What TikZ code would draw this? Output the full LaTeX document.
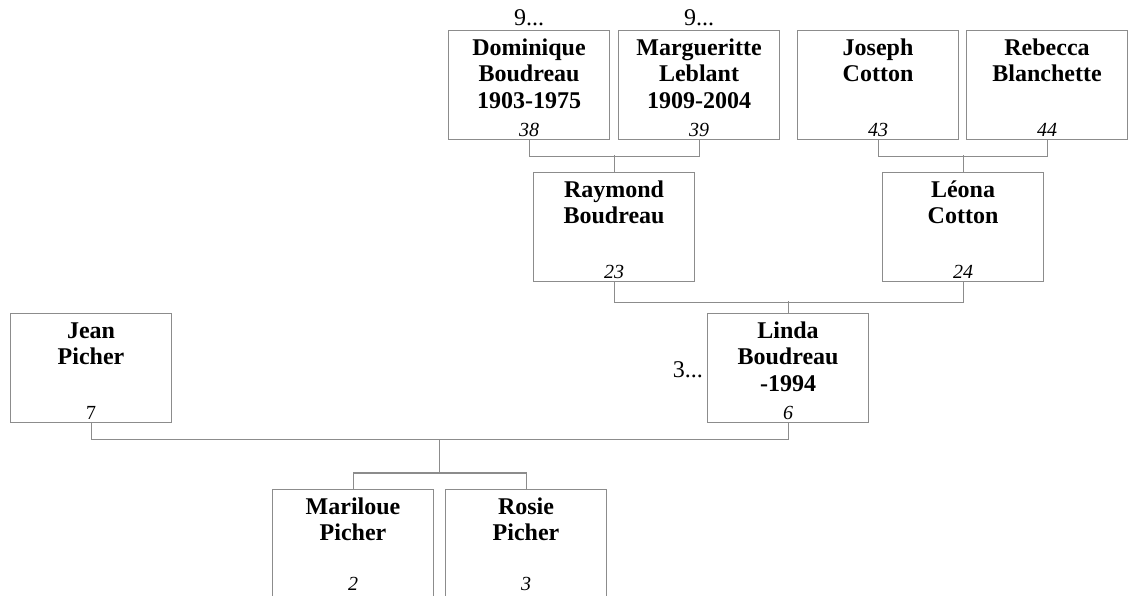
\documentclass[tikz,border=0pt]{standalone}
\usepackage{fontspec}
\setmainfont{Liberation Serif}
\usetikzlibrary{calc}
\definecolor{boxgray}{RGB}{140,140,140}
\tikzset{
  person/.style={draw=boxgray, line width=1.1pt, rectangle, anchor=north west, inner sep=0pt, minimum width=161pt, minimum height=109pt},
  pname/.style={anchor=north, inner sep=0pt, align=center, font=\bfseries\fontsize{24}{26.5}\selectfont},
  pnum/.style={anchor=base, inner sep=0pt, font=\itshape\fontsize{20}{22}\selectfont},
  pnumup/.style={anchor=base, inner sep=0pt, font=\fontsize{20}{22}\selectfont},
  more/.style={inner sep=0pt, font=\fontsize{24}{26}\selectfont},
  link/.style={draw=boxgray, line width=1.1pt}
}
\newcommand{\fs}{\rule{0pt}{17pt}}
\begin{document}
\begin{tikzpicture}[x=1pt,y=-1pt]
\clip (0,0) rectangle (1132,595);
% boxes
\node[person] (dom) at (448,30) {};
\node[person] (marg) at (618,30) {};
\node[person] (jos) at (797,30) {};
\node[person] (reb) at (966,30) {};
\node[person] (ray) at (533,172) {};
\node[person] (leo) at (882,172) {};
\node[person] (jean) at (10,313) {};
\node[person] (linda) at (707,313) {};
\node[person] (mari) at (272,489) {};
\node[person] (rosie) at (445,489) {};
% names
\node[pname] (domn) at ([yshift=-8pt]dom.north) {\fs Dominique\\Boudreau\\1903-1975};
\node[pname] (margn) at ([yshift=-8pt]marg.north) {\fs Margueritte\\Leblant\\1909-2004};
\node[pname] (josn) at ([yshift=-8pt]jos.north) {\fs Joseph\\Cotton};
\node[pname] (rebn) at ([yshift=-8pt]reb.north) {\fs Rebecca\\Blanchette};
\node[pname] (rayn) at ([yshift=-8pt]ray.north) {\fs Raymond\\Boudreau};
\node[pname] (leon) at ([yshift=-8pt]leo.north) {\fs Léona\\Cotton};
\node[pname] (jeann) at ([yshift=-8pt]jean.north) {\fs Jean\\Picher};
\node[pname] (lindan) at ([yshift=-8pt]linda.north) {\fs Linda\\Boudreau\\-1994};
\node[pname] (marin) at ([yshift=-8pt]mari.north) {\fs Mariloue\\Picher};
\node[pname] (rosien) at ([yshift=-8pt]rosie.north) {\fs Rosie\\Picher};
% numbers
\node[pnum] (domk) at ([yshift=4pt]dom.south) {38};
\node[pnum] (margk) at ([yshift=4pt]marg.south) {39};
\node[pnum] (josk) at ([yshift=4pt]jos.south) {43};
\node[pnum] (rebk) at ([yshift=4pt]reb.south) {44};
\node[pnum] (rayk) at ([yshift=4pt]ray.south) {23};
\node[pnum] (leok) at ([yshift=4pt]leo.south) {24};
\node[pnumup] (jeank) at ([yshift=4pt]jean.south) {7};
\node[pnum] (lindak) at ([yshift=4pt]linda.south) {6};
\node[pnum] (marik) at ([yshift=9pt]mari.south) {2};
\node[pnum] (rosiek) at ([yshift=9pt]rosie.south) {3};
% continuation marks
\node[more, anchor=base] (domm) at ([yshift=5pt]dom.north) {9...};
\node[more, anchor=base] (margm) at ([yshift=5pt]marg.north) {9...};
\node[more, anchor=base east] (lindam) at (703,377) {3...};
% connectors
\draw[link] (dom.south) -- ++(0,16) -| (marg.south);
\draw[link] (ray.north) -- ++(0,-17);
\draw[link] (jos.south) -- ++(0,16) -| (reb.south);
\draw[link] (leo.north) -- ++(0,-17);
\draw[link] (ray.south) -- ++(0,20) -| (leo.south);
\draw[link] (linda.north) -- ++(0,-12);
\draw[link] (jean.south) -- ++(0,16) -| (linda.south);
\coordinate (famtop) at ($(jean.south)!0.5!(linda.south)+(0,16)$);
\coordinate (fambot) at ($(mari.north)!0.5!(rosie.north)+(0,-16)$);
\draw[link] (famtop) -- (famtop |- fambot);
\draw[link] (mari.north) -- ++(0,-16) -| (rosie.north);
\end{tikzpicture}
\end{document}
